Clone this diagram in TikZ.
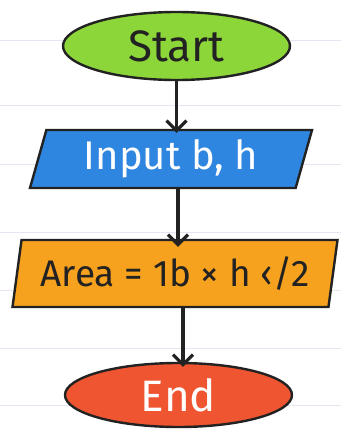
\documentclass[tikz,border=0pt]{standalone}
\usepackage{fontspec}
\setmainfont{Fira Sans}
\usetikzlibrary{arrows.meta,shapes.geometric}
\definecolor{ink}      {HTML}{222222}
\definecolor{rule}     {HTML}{E6E6F2}
\definecolor{startgreen}{HTML}{8DD63A}
\definecolor{inputblue}{HTML}{2F86E0}
\definecolor{procorange}{HTML}{F7A21E}
\definecolor{endred}   {HTML}{EE5530}

\begin{document}
\begin{tikzpicture}[x=1pt,y=-1pt,
    term/.style={ellipse,draw=ink,line width=2.4pt,inner sep=0pt,
      minimum width=227pt,font=\fontsize{44}{48}\selectfont},
    io/.style={trapezium,trapezium left angle=67,trapezium right angle=113,
      trapezium stretches body,draw=ink,line width=2.4pt,inner sep=0pt,
      font=\fontsize{40}{44}\selectfont},
    flow/.style={ink,line width=3.2pt,-{Straight Barb[length=10pt,width=20pt]}}]
    \useasboundingbox (0,0) rectangle (341,431);
    \fill[white] (0,0) rectangle (341,431);
    % ruled paper
    \foreach \y in {40,105,164,232,290,348,405} {
      \draw[rule,line width=1pt] (0,\y) -- (341,\y);
    }
    % terminals and boxes
    \node[term,fill=startgreen,minimum height=68pt,text=ink] (start) at (176.5,46) {Start};
    \node[io,fill=inputblue,minimum width=282pt,minimum height=58pt,text=white] (input) at (171,159) {Input b, h};
    \node[io,trapezium left angle=75,trapezium right angle=105,fill=procorange,
      font=\fontsize{37}{40}\selectfont,
      minimum width=325pt,minimum height=67pt,text=ink] (area) at (175,273.5) {Area = 1b × h ‹/2};
    \node[term,fill=endred,minimum height=64pt,text=white] (end) at (178.5,395) {End};
    % connectors
    \draw[flow] (start.south) -- ([yshift=-4pt]input.north -| start.south);
    \draw[flow] (input.south -| 178,0) -- ([yshift=-8pt]area.north -| 178,0);
    \draw[flow] (area.south -| 183,0) -- ([yshift=-5pt]end.north -| 183,0);
\end{tikzpicture}
\end{document}
